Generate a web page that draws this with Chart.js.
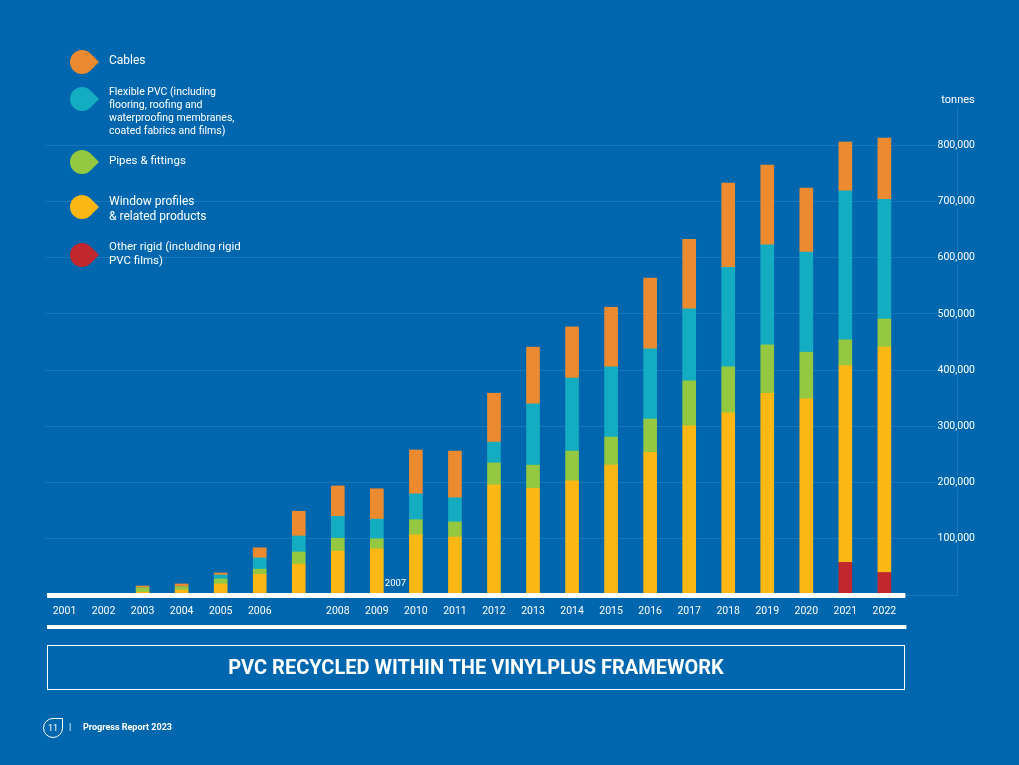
<!DOCTYPE html>
<html>
<head>
<meta charset="utf-8">
<script src="https://cdn.jsdelivr.net/npm/chart.js@4.4.0/dist/chart.umd.min.js"></script>
<style>
  body { margin: 0; background: #0067ae; font-family: Roboto, "Noto Sans", sans-serif; color: #fff; }
  #page { position: relative; width: 1019px; height: 765px; overflow: hidden; }
  #chart { position: absolute; left: 0; top: 0; }
  .drop { position: absolute; left: 70px; width: 24px; height: 24px; border-radius: 50% 0 50% 50%; transform: rotate(45deg); }
  .lbl { position: absolute; left: 109px; white-space: pre-line; }
  #titlebox { position: absolute; left: 47px; top: 645px; width: 856px; height: 43px; border: 1px solid #fff;
    text-align: center; font-weight: bold; font-size: 20px; line-height: 43px; }
  #foot { position: absolute; left: 43px; top: 718px; font-size: 9px; }
  #foot .icon { position: absolute; left: 0; top: 0; width: 18px; height: 18px; border: 1.3px solid #fff;
    border-radius: 50% 0 50% 50%; text-align: center; line-height: 18px; font-size: 9px; }
  #foot .bar { position: absolute; left: 26px; top: 4px; }
  #foot .txt { position: absolute; left: 40px; top: 4px; white-space: nowrap; font-weight: bold; }
</style>
</head>
<body>
<div id="page">
  <canvas id="chart" width="1019" height="765"></canvas>
  <div id="legend"></div>
  <div id="titlebox">PVC RECYCLED WITHIN THE VINYLPLUS FRAMEWORK</div>
  <div id="foot"><div class="icon">11</div><div class="bar">|</div><div class="txt">Progress Report 2023</div></div>
</div>
<script>
var FONT = 'Roboto, "Noto Sans", sans-serif';

// years on the x axis
var years = [2001, 2002, 2003, 2004, 2005, 2006, 2007, 2008, 2009, 2010, 2011,
	2012, 2013, 2014, 2015, 2016, 2017, 2018, 2019, 2020, 2021, 2022];

// tonnes per application
var otherRigid = [0, 0, 0, 0, 0, 0, 0, 0, 0, 0, 0, 0, 0, 0, 0, 0, 0, 0, 0, 0, 58000, 40000];
var windowProfiles = [0, 0, 5000, 9000, 19600, 37000, 55000, 78000, 82000, 107000, 103000,
	196000, 190000, 203000, 231000, 254000, 301000, 324000, 359000, 349000, 350000, 401000];
var pipes = [0, 0, 7500, 5300, 9000, 9000, 21500, 23000, 18000, 27000, 27000,
	39000, 41000, 53000, 50000, 59000, 80000, 82000, 86000, 83000, 46000, 50000];
var flexible = [0, 0, 0, 0, 7000, 20000, 28500, 39000, 35000, 46000, 43000,
	37000, 109000, 130000, 125000, 125000, 128000, 177000, 178000, 178000, 265000, 213000];
var cables = [0, 0, 3500, 5400, 3500, 18000, 44000, 54000, 54000, 78000, 83000,
	87000, 101000, 91000, 106000, 126000, 124000, 150000, 142000, 114000, 87000, 109000];

var seriesNames = ['Cables',
	'Flexible PVC (including\nflooring, roofing and\nwaterproofing membranes,\ncoated fabrics and films)',
	'Pipes & fittings',
	'Window profiles\n& related products',
	'Other rigid (including rigid\nPVC films)'];
var seriesColors = ['#eb8a2f', '#14acc1', '#94c840', '#fbb815', '#c1272d'];

var yTicks = [100000, 200000, 300000, 400000, 500000, 600000, 700000, 800000];

/*
* html legend with the drop markers
*/
var legendPos = [
	{ top: 53, size: 12, lh: 14, mark: 62 },
	{ top: 85, size: 10.5, lh: 13, mark: 99 },
	{ top: 153, size: 11.5, lh: 14, mark: 162 },
	{ top: 194, size: 12, lh: 14.7, mark: 207 },
	{ top: 239, size: 11.5, lh: 14.3, mark: 255 }
];
var legendEl = document.getElementById('legend');
for (var i = 0; i < seriesNames.length; i++) {
	var p = legendPos[i];
	var d = document.createElement('div');
	d.className = 'drop';
	d.style.top = (p.mark - 12) + 'px';
	d.style.background = seriesColors[i];
	legendEl.appendChild(d);
	var t = document.createElement('div');
	t.className = 'lbl';
	t.style.top = p.top + 'px';
	t.style.fontSize = p.size + 'px';
	t.style.lineHeight = p.lh + 'px';
	t.textContent = seriesNames[i];
	legendEl.appendChild(t);
}

function series(values) {
	return values.map(function(v, i) { return { x: years[i], y: v }; });
}

// white base lines, stray 2007 label and unit
var extras = {
	id: 'extras',
	afterDatasetsDraw: function(chart) {
		var ctx = chart.ctx;
		var x = chart.scales.x, y = chart.scales.y;
		var y0 = y.getPixelForValue(0);
		var left = x.left + 2;
		var right = x.getPixelForValue(2022) + 21;
		ctx.save();
		ctx.fillStyle = '#fff';
		ctx.fillRect(left, y0 - 2, right - left, 5);
		ctx.fillRect(left, y0 + 30, right - left + 1, 4);
		ctx.font = '9.5px ' + FONT;
		ctx.textAlign = 'left';
		ctx.textBaseline = 'middle';
		ctx.fillText('2007', x.getPixelForValue(2009) + 8, y0 - 11);
		ctx.font = '11px ' + FONT;
		ctx.textAlign = 'center';
		ctx.fillText('tonnes', chart.chartArea.right + 1, chart.chartArea.top - 6);
		ctx.restore();
	}
};

var gridColor = 'rgba(255,255,255,0.10)';

new Chart(document.getElementById('chart'), {
	type: 'bar',
	data: {
		datasets: [
			{ label: seriesNames[4], data: series(otherRigid), backgroundColor: seriesColors[4] },
			{ label: seriesNames[3], data: series(windowProfiles), backgroundColor: seriesColors[3] },
			{ label: seriesNames[2], data: series(pipes), backgroundColor: seriesColors[2] },
			{ label: seriesNames[1], data: series(flexible), backgroundColor: seriesColors[1] },
			{ label: seriesNames[0], data: series(cables), backgroundColor: seriesColors[0] }
		]
	},
	options: {
		responsive: false,
		animation: false,
		barThickness: 13,
		layout: { padding: { left: 45, right: 61, top: 106, bottom: 140 } },
		plugins: { legend: { display: false }, tooltip: { enabled: false } },
		scales: {
			x: {
				type: 'linear',
				stacked: true,
				offset: false,
				min: 2000.5,
				max: 2023.86,
				grid: { display: false, offset: false },
				border: { display: false },
				afterBuildTicks: function(s) { s.ticks = years.map(function(v) { return { value: v }; }); },
				afterFit: function(s) { s.height = 30; },
				ticks: {
					color: '#fff',
					font: { family: FONT, size: 10.5 },
					padding: 2,
					maxRotation: 0,
					autoSkip: false,
					callback: function(v) { return v === 2007 ? '' : String(v); }
				}
			},
			y: {
				position: 'right',
				stacked: true,
				min: 0,
				max: 870000,
				grid: { color: gridColor, drawTicks: false },
				border: { display: true, color: gridColor },
				afterBuildTicks: function(s) { s.ticks = [0].concat(yTicks).map(function(v) { return { value: v }; }); },
				afterFit: function(s) { s.width = 1; },
				ticks: {
					mirror: true,
					padding: 18,
					color: '#fff',
					font: { family: FONT, size: 10.5 },
					showLabelBackdrop: true,
					backdropColor: '#0067ae',
					backdropPadding: { left: 1, right: 1, top: 0, bottom: 0 },
					callback: function(v) { return v === 0 ? '' : v.toLocaleString('en-US'); }
				}
			}
		}
	},
	plugins: [extras]
});
</script>
</body>
</html>
